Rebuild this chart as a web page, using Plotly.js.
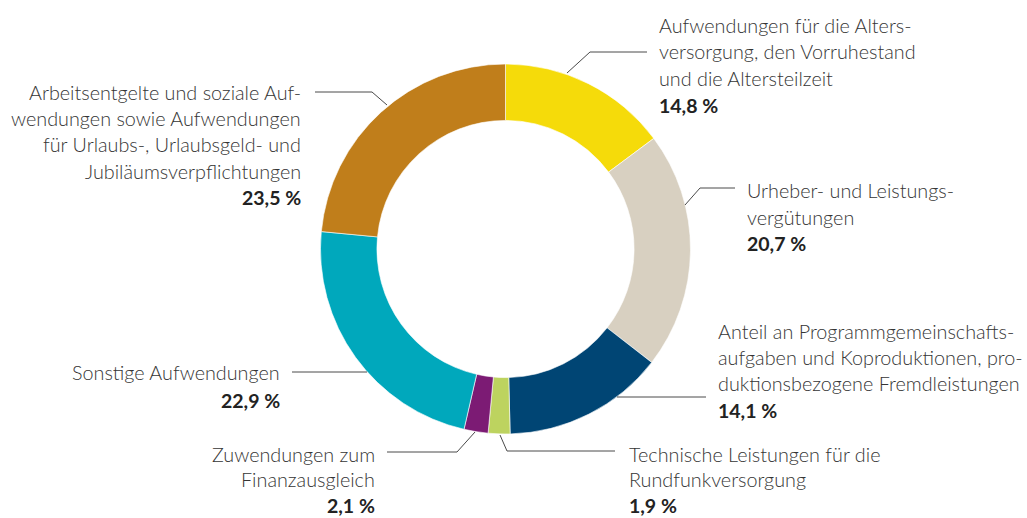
<!DOCTYPE html>
<html>
<head>
<meta charset="utf-8">
<script src="https://cdn.plot.ly/plotly-3.0.1.min.js"></script>
<style>html,body{margin:0;padding:0;background:#fff;}#chart{width:1027px;height:518px;}</style>
</head>
<body>
<div id="chart"></div>
<script>
// ---- data ----
var categories = [
  "Aufwendungen für die Altersversorgung, den Vorruhestand und die Altersteilzeit",
  "Urheber- und Leistungsvergütungen",
  "Anteil an Programmgemeinschaftsaufgaben und Koproduktionen, produktionsbezogene Fremdleistungen",
  "Technische Leistungen für die Rundfunkversorgung",
  "Zuwendungen zum Finanzausgleich",
  "Sonstige Aufwendungen",
  "Arbeitsentgelte und soziale Aufwendungen sowie Aufwendungen für Urlaubs-, Urlaubsgeld- und Jubiläumsverpflichtungen"
];
var values = [14.8, 20.7, 14.1, 1.9, 2.1, 22.9, 23.5];
var labelLines = [
  ["Aufwendungen für die Alters-", "versorgung, den Vorruhestand", "und die Altersteilzeit"],
  ["Urheber- und Leistungs-", "vergütungen"],
  ["Anteil an Programmgemeinschafts-", "aufgaben und Koproduktionen, pro-", "duktionsbezogene Fremdleistungen"],
  ["Technische Leistungen für die", "Rundfunkversorgung"],
  ["Zuwendungen zum", "Finanzausgleich"],
  ["Sonstige Aufwendungen"],
  ["Arbeitsentgelte und soziale Auf-", "wendungen sowie Aufwendungen", "für Urlaubs-, Urlaubsgeld- und", "Jubiläumsverpflichtungen"]
];

// ---- styles / layout positions ----
var W = 1027, H = 518;
var colors = ["#F5DB0A", "#D8D0C1", "#004574", "#BDD35F", "#7C1B74", "#00A8BC", "#C07E1B"];
var labelPos = [
  {x: 657, y: 25, anchor: "left", step: 26.5},
  {x: 745, y: 190, anchor: "left", step: 26.5},
  {x: 716, y: 331, anchor: "left", step: 26},
  {x: 627, y: 454, anchor: "left", step: 25.3},
  {x: 377, y: 454, anchor: "right", step: 25.3},
  {x: 282, y: 372, anchor: "right", step: 27},
  {x: 303, y: 92, anchor: "right", step: 26.2}
];
var leaders = [
  [[567,73],[590,52],[647,52]],
  [[685,205],[700,188],[735,188]],
  [[617,397],[706,397]],
  [[500,435],[507,451],[615,451]],
  [[475,432],[457,452],[387,452]],
  [[367,372],[292,372]],
  [[387,105],[372,92],[315,92]]
];
var fontFam = "Lato, 'Open Sans', sans-serif";
var fontSize = 19.8;

function px(x){ return x / W; }
function py(y){ return 1 - y / H; }
function fmtPct(v){ return v.toFixed(1).replace(".", ",") + "\u202F%"; }

var annotations = [];
var shapes = [];
for (var i = 0; i < values.length; i++) {
  var p = labelPos[i];
  var lines = labelLines[i];
  for (var j = 0; j < lines.length; j++) {
    annotations.push({
      xref: "paper", yref: "paper", x: px(p.x), y: py(p.y + j * p.step),
      xanchor: p.anchor, yanchor: "middle", showarrow: false,
      text: lines[j],
      font: {family: fontFam, size: fontSize, color: "#353535", weight: 300}
    });
  }
  annotations.push({
    xref: "paper", yref: "paper", x: px(p.x), y: py(p.y + lines.length * p.step + 1),
    xanchor: p.anchor, yanchor: "middle", showarrow: false,
    text: "<b>" + fmtPct(values[i]) + "</b>",
    font: {family: fontFam, size: 19.5, color: "#222222"}
  });
  var pts = leaders[i];
  for (var k = 0; k < pts.length - 1; k++) {
    shapes.push({
      type: "line", xref: "paper", yref: "paper",
      x0: px(pts[k][0]), y0: py(pts[k][1]), x1: px(pts[k+1][0]), y1: py(pts[k+1][1]),
      line: {color: "#4a4a4a", width: 1}
    });
  }
}

var trace = {
  type: "pie",
  labels: categories,
  values: values,
  sort: false,
  direction: "clockwise",
  rotation: 0,
  hole: 0.695,
  textinfo: "none",
  hoverinfo: "label+percent",
  marker: {colors: colors, line: {color: "#ffffff", width: 0.6}},
  domain: {x: [px(320), px(691)], y: [py(434), py(64)]},
  showlegend: false
};

var layout = {
  width: W, height: H,
  margin: {l: 0, r: 0, t: 0, b: 0},
  paper_bgcolor: "#ffffff",
  plot_bgcolor: "#ffffff",
  showlegend: false,
  annotations: annotations,
  shapes: shapes
};

Plotly.newPlot("chart", [trace], layout, {displayModeBar: false, staticPlot: true});
</script>
</body>
</html>
